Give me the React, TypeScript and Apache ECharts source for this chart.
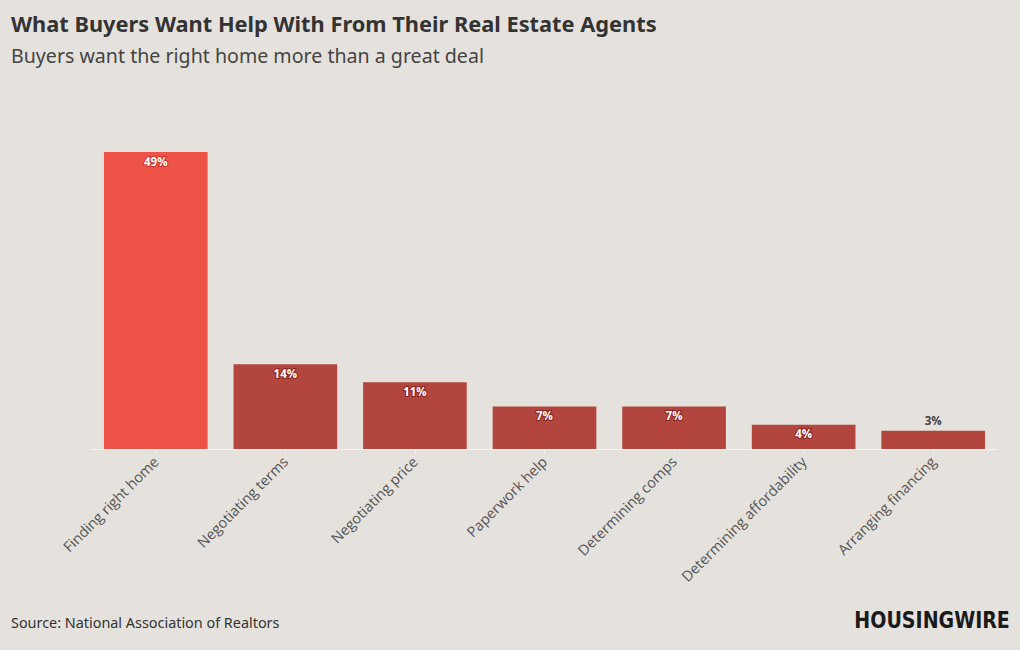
import React, { useEffect, useRef } from "react";
import * as echarts from "echarts";

const categories = [
  "Finding right home",
  "Negotiating terms",
  "Negotiating price",
  "Paperwork help",
  "Determining comps",
  "Determining affordability",
  "Arranging financing",
];
const values = [49, 14, 11, 7, 7, 4, 3];
const highlightIndex = 0;
const outsideLabelIndex = 6;

const TITLE = "What Buyers Want Help With From Their Real Estate Agents";
const SUBTITLE = "Buyers want the right home more than a great deal";
const SOURCE = "Source: National Association of Realtors";

export default function App() {
  const ref = useRef<HTMLDivElement>(null);
  useEffect(() => {
    if (!ref.current) return;
    const chart = echarts.init(ref.current, undefined, { renderer: "svg" });
    const font = "'Noto Sans', 'Open Sans', sans-serif";
    chart.setOption({
      animation: false,
      backgroundColor: "#E5E2DD",
      title: [
        {
          text: TITLE,
          left: 6,
          top: 7,
          textStyle: { fontFamily: font, fontSize: 21.8, fontWeight: "bold", color: "#333333" },
        },
        {
          text: SUBTITLE,
          left: 6,
          top: 40,
          textStyle: { fontFamily: font, fontSize: 19.6, fontWeight: "normal", color: "#444444" },
        },
        {
          text: SOURCE,
          left: 6,
          top: 610,
          textStyle: { fontFamily: font, fontSize: 14.4, fontWeight: "normal", color: "#333333" },
        },
      ],
      graphic: [
        {
          type: "text",
          right: 10,
          top: 608,
          style: {
            text: "HOUSINGWIRE",
            font: "bold 23px 'Liberation Sans Narrow', 'DejaVu Sans Condensed', sans-serif",
            fill: "#1a1a1a",
          },
          scaleX: 0.92,
        },
      ],
      grid: { left: 91, right: 22, top: 152, bottom: 201, containLabel: false },
      xAxis: {
        type: "category",
        data: categories,
        axisLine: { show: true, lineStyle: { color: "#F7F5F2", width: 1 } },
        axisTick: { show: true, alignWithLabel: true, length: 4, lineStyle: { color: "#F7F5F2" } },
        axisLabel: {
          rotate: 45,
          interval: 0,
          margin: 10,
          color: "#555555",
          fontFamily: "'Open Sans', sans-serif",
          fontSize: 14.5,
        },
      },
      yAxis: {
        type: "value",
        min: 0,
        max: 49,
        show: false,
        splitLine: { show: false },
      },
      series: [
        {
          type: "bar",
          barCategoryGap: "20%",
          data: values.map((v, i) => ({
            value: v,
            itemStyle: { color: i === highlightIndex ? "#EE5347" : "#B2453D" },
            label:
              i === outsideLabelIndex
                ? {
                    show: true,
                    position: "top",
                    distance: 4,
                    color: "#444444",
                    fontWeight: "bold",
                    textBorderWidth: 0,
                  }
                : {
                    show: true,
                    position: "insideTop",
                    distance: 3,
                    color: "#FFFFFF",
                    fontWeight: "bold",
                    textBorderColor: i === highlightIndex ? "#C8342A" : "#8A2420",
                    textBorderWidth: 2,
                  },
          })),
          label: {
            show: true,
            formatter: "{c}%",
            fontFamily: "'Open Sans', sans-serif",
            fontSize: 11.5,
          },
        },
      ],
    });
    return () => chart.dispose();
  }, []);
  return (
    <div
      ref={ref}
      style={{ position: "absolute", left: 0, top: 0, width: 1020, height: 650 }}
    />
  );
}
